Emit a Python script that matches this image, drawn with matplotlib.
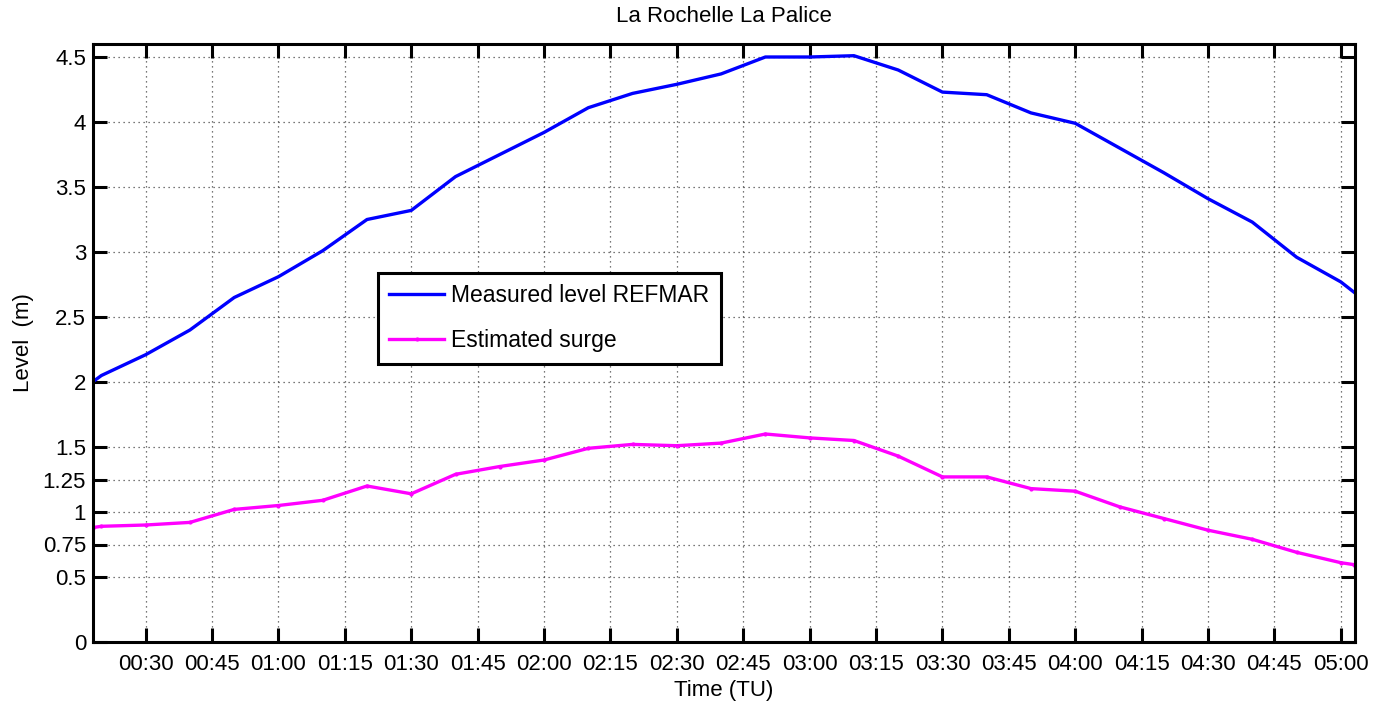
import matplotlib
matplotlib.use("Agg")
import matplotlib.pyplot as plt
from matplotlib.ticker import FixedLocator, FuncFormatter

plt.rcParams['font.family'] = ['Liberation Sans', 'DejaVu Sans']

# Time in minutes after 00:00 (TU)
time_min = [18, 20, 30, 40, 50, 60, 70, 80, 90, 100, 110, 120, 130, 140, 150,
            160, 170, 180, 190, 200, 210, 220, 230, 240, 250, 260, 270, 280,
            290, 300, 303]

measured_level = [2.00, 2.05, 2.21, 2.40, 2.65, 2.81, 3.01, 3.25, 3.32, 3.58,
                  3.75, 3.92, 4.11, 4.22, 4.29, 4.37, 4.50, 4.50, 4.51, 4.40,
                  4.23, 4.21, 4.07, 3.99, 3.80, 3.61, 3.41, 3.23, 2.96, 2.77,
                  2.69]

estimated_surge = [0.88, 0.89, 0.90, 0.92, 1.02, 1.05, 1.09, 1.20, 1.14, 1.29,
                   1.35, 1.40, 1.49, 1.52, 1.51, 1.53, 1.60, 1.57, 1.55, 1.43,
                   1.27, 1.27, 1.18, 1.16, 1.04, 0.95, 0.86, 0.79, 0.69, 0.61,
                   0.595]

x_ticks = [30, 45, 60, 75, 90, 105, 120, 135, 150, 165, 180, 195, 210, 225,
           240, 255, 270, 285, 300]
y_ticks = [0, 0.5, 0.75, 1, 1.25, 1.5, 2, 2.5, 3, 3.5, 4, 4.5]
y_tick_labels = ['0', '0.5', '0.75', '1', '1.25', '1.5', '2', '2.5', '3',
                 '3.5', '4', '4.5']

FS = 16

fig = plt.figure(figsize=(13.73, 7.01), dpi=100)
ax = fig.add_axes([93 / 1373, 1 - 642 / 701, (1355 - 93) / 1373, (642 - 44) / 701])

ax.plot(time_min, measured_level, color='#0000ff', lw=2.4,
        label='Measured level REFMAR')
ax.plot(time_min, estimated_surge, color='#ff00ff', lw=2.4, marker='.',
        markersize=4, label='Estimated surge')

ax.set_xlim(18.1, 303.2)
ax.set_ylim(0, 4.6)

ax.xaxis.set_major_locator(FixedLocator(x_ticks))
ax.xaxis.set_major_formatter(FuncFormatter(lambda v, p: f"{int(v) // 60:02d}:{int(v) % 60:02d}"))
ax.set_yticks(y_ticks)
ax.set_yticklabels(y_tick_labels)

ax.tick_params(direction='in', length=10, width=2.2, top=True, right=True,
               labelsize=FS, pad=9, colors='black')
ax.tick_params(axis='y', pad=5)
for s in ax.spines.values():
    s.set_linewidth(2.2)

ax.grid(True, linestyle=(0, (1, 3)), color='black', linewidth=0.9, alpha=0.7)

ax.set_xlabel('Time (TU)', fontsize=FS, labelpad=3)
ax.set_ylabel('Level  (m)', fontsize=FS, labelpad=6)
ax.set_title('La Rochelle La Palice', fontsize=FS, pad=16)

leg = ax.legend(loc='upper left', bbox_to_anchor=((378 - 93) / 1262, 1 - (273 - 44) / 598),
                fontsize=16.5, frameon=True, fancybox=False, edgecolor='black',
                handlelength=2.4, borderpad=0.5, labelspacing=0.95, handletextpad=0.3,
                borderaxespad=0)
leg.get_frame().set_linewidth(2.2)
leg.get_frame().set_alpha(1)

fig.savefig('out.png', dpi=100)
